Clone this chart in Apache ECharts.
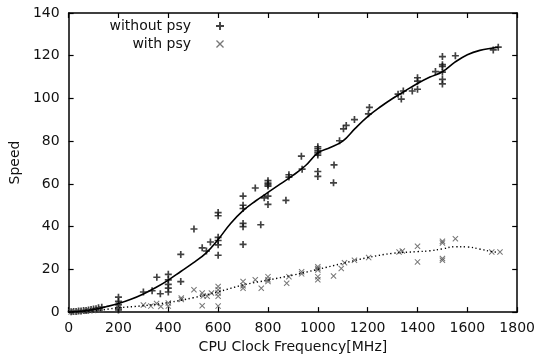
<!DOCTYPE html>
<html>
<head>
<meta charset="utf-8">
<script src="https://cdn.jsdelivr.net/npm/echarts@6/dist/echarts.min.js"></script>
<style>html,body{margin:0;padding:0;background:#fff}#c{width:538px;height:359px}</style>
</head>
<body>
<div id="c"></div>
<script>
// x ticks / y ticks
const xTicks = [0, 200, 400, 600, 800, 1000, 1200, 1400, 1600, 1800];
const yTicks = [0, 20, 40, 60, 80, 100, 120, 140];

// measured points [MHz, speed]
const withoutPsy = [
  [10,0.2],[20,0.3],[30,0.3],[40,0.5],[50,0.5],[60,0.7],[70,0.8],[80,1],[90,1.2],[100,1.5],[110,1.6],[120,2],[133,2.3],
  [200,7],[200,5],[200,3.5],[200,2],[200,1],
  [300,9.4],[335,10],[354,16.3],[368,8.6],
  [400,17.7],[400,15.1],[400,13],[400,11.2],[400,9.4],
  [450,27],[450,14.3],
  [503,38.9],[536,30.1],[553,28.6],[569,32.8],
  [600,46.6],[600,45.1],[600,35],[600,33.5],[600,31.5],[600,26.6],
  [700,54.3],[700,50],[700,48.5],[700,41.5],[700,40],[700,31.7],
  [749,58.1],[771,40.9],[785,53.5],
  [800,61.5],[800,60.4],[800,59.7],[800,59],[800,54.3],[800,50.4],
  [872,52.3],[884,64.3],[884,63.2],[934,73],[937,66.9],
  [1000,77.4],[1000,76.5],[1000,75.5],[1000,74.5],[1000,73.5],[1000,65.8],[1000,63.5],
  [1065,68.9],[1063,60.5],[1087,80.2],[1103,85.8],[1114,87.4],[1147,90.1],[1203,92.8],[1207,95.8],
  [1322,102],[1335,99.7],[1343,103.5],[1379,103.5],
  [1400,109.7],[1400,108.1],[1400,104.3],
  [1472,112.6],
  [1500,119.6],[1500,115.8],[1500,115],[1500,112.3],[1500,108.9],[1500,106.8],
  [1552,120],[1704,122.7],[1724,124]
];
const withPsy = [
  [10,0.1],[25,0.2],[40,0.3],[55,0.4],[70,0.5],[85,0.6],[100,0.8],[115,1],[130,1.2],
  [200,3.5],[200,2],
  [300,3.3],[330,2.8],[353,4],[370,2.6],
  [400,4.3],[400,2.8],
  [452,6.6],[452,5.9],
  [503,10.5],[536,8.9],[540,7.5],[536,3],[556,7.4],[573,8.9],
  [600,12],[600,10.5],[600,8.9],[600,7.4],[600,2.8],
  [700,14.3],[700,12.3],[700,11.2],
  [749,15.1],[773,11.2],
  [800,16.6],[800,15.1],[800,14.3],
  [875,13.5],[884,16.6],[935,18.9],[935,17.9],
  [1000,21.2],[1000,20.4],[1000,19.7],[1000,16.6],[1000,15.1],
  [1063,16.9],[1094,20.4],[1107,23.1],[1147,24.3],[1204,25.5],
  [1326,28.1],[1339,28.6],[1400,30.8],[1400,23.5],
  [1500,33.2],[1500,32.3],[1500,25.1],[1500,24.3],
  [1552,34.3],[1698,28.1],[1731,28.1]
];
// fitted curves
const fitWithout = [
  [0,0],[50,0.4],[100,1.2],[150,2.5],[200,4],[250,6],[300,8.5],[350,11.5],[400,15],[450,19],[500,23],
  [550,27.5],[600,34],[650,41.5],[700,47.5],[750,52],[800,56],[850,60],[900,64],[950,68.5],[1000,74.5],
  [1050,77],[1100,80],[1150,86],[1200,91.5],[1250,96],[1300,100],[1350,103.5],[1400,107],[1450,110],
  [1500,112.5],[1550,117],[1600,120.5],[1650,122.5],[1725,124]
];
const fitWith = [
  [0,0],[100,0.6],[200,2],[300,3],[400,4.5],[500,6.7],[600,9.5],[700,12.7],[800,15],[900,17.3],
  [1000,20],[1100,22.8],[1200,25.5],[1300,27.5],[1400,28.3],[1450,28.7],[1500,29.6],[1550,30.6],
  [1600,30.5],[1650,29.5],[1700,28.3],[1725,28]
];

const FONT = 'DejaVu Sans';
const plusPath = 'path://M0,3.8H10V6.2H0Z M3.8,0H6.2V10H3.8Z';
const crossPath = 'path://M0,1.2L1.2,0L10,8.8L8.8,10Z M8.8,0L10,1.2L1.2,10L0,8.8Z';

function frameAxis(pos, show) {
  return {
    type: 'value', position: pos,
    axisLine: { show: true, onZero: false, lineStyle: { color: '#000', width: 1.5 } },
    axisTick: { show: true, inside: true, length: 5, lineStyle: { color: '#000', width: 1.2 } },
    axisLabel: { show: show, color: '#111', fontSize: 14, fontFamily: FONT, margin: 9,
                 formatter: function (v) { return String(v); } },
    splitLine: { show: false }
  };
}
const xb = Object.assign(frameAxis('bottom', true), {
  min: xTicks[0], max: xTicks[xTicks.length - 1], interval: xTicks[1] - xTicks[0],
  name: 'CPU Clock Frequency[MHz]', nameLocation: 'middle', nameGap: 27,
  nameTextStyle: { color: '#111', fontSize: 14, fontFamily: FONT }
});
const xt = Object.assign(frameAxis('top', false), {
  min: xTicks[0], max: xTicks[xTicks.length - 1], interval: xTicks[1] - xTicks[0]
});
const yl = Object.assign(frameAxis('left', true), {
  min: yTicks[0], max: yTicks[yTicks.length - 1], interval: yTicks[1] - yTicks[0],
  name: 'Speed', nameLocation: 'middle', nameGap: 40,
  nameTextStyle: { color: '#111', fontSize: 14, fontFamily: FONT }
});
const yr = Object.assign(frameAxis('right', false), {
  min: yTicks[0], max: yTicks[yTicks.length - 1], interval: yTicks[1] - yTicks[0]
});

const legendBase = {
  orient: 'vertical', right: 314, align: 'right', selectedMode: false,
  itemWidth: 8, itemHeight: 8, padding: 0,
  textStyle: { color: '#111', fontSize: 14, fontFamily: FONT, padding: [0, 20, 0, 0] }
};

const chart = echarts.init(document.getElementById('c'), null, { renderer: 'canvas' });
chart.setOption({
  animation: false,
  backgroundColor: '#fff',
  grid: { left: 67, right: 19, top: 13, bottom: 43 },
  legend: [
    Object.assign({}, legendBase, { top: 19, data: ['without psy'] }),
    Object.assign({}, legendBase, { top: 37, data: ['with psy'] })
  ],
  xAxis: [xb, xt],
  yAxis: [yl, yr],
  series: [
    { name: 'without psy', type: 'scatter', data: withoutPsy, symbol: plusPath, symbolSize: 7,
      itemStyle: { color: '#111' }, xAxisIndex: 0, yAxisIndex: 0 },
    { name: 'with psy', type: 'scatter', data: withPsy, symbol: crossPath, symbolSize: 6,
      itemStyle: { color: '#555' }, xAxisIndex: 0, yAxisIndex: 0 },
    { name: 'fit without', type: 'line', data: fitWithout, smooth: 0.4, showSymbol: false,
      lineStyle: { color: '#000', width: 1.6 }, xAxisIndex: 0, yAxisIndex: 0 },
    { name: 'fit with', type: 'line', data: fitWith, smooth: 0.4, showSymbol: false,
      lineStyle: { color: '#000', width: 1.4, type: [1.3, 2.6] }, xAxisIndex: 0, yAxisIndex: 0 }
  ]
});
</script>
</body>
</html>
